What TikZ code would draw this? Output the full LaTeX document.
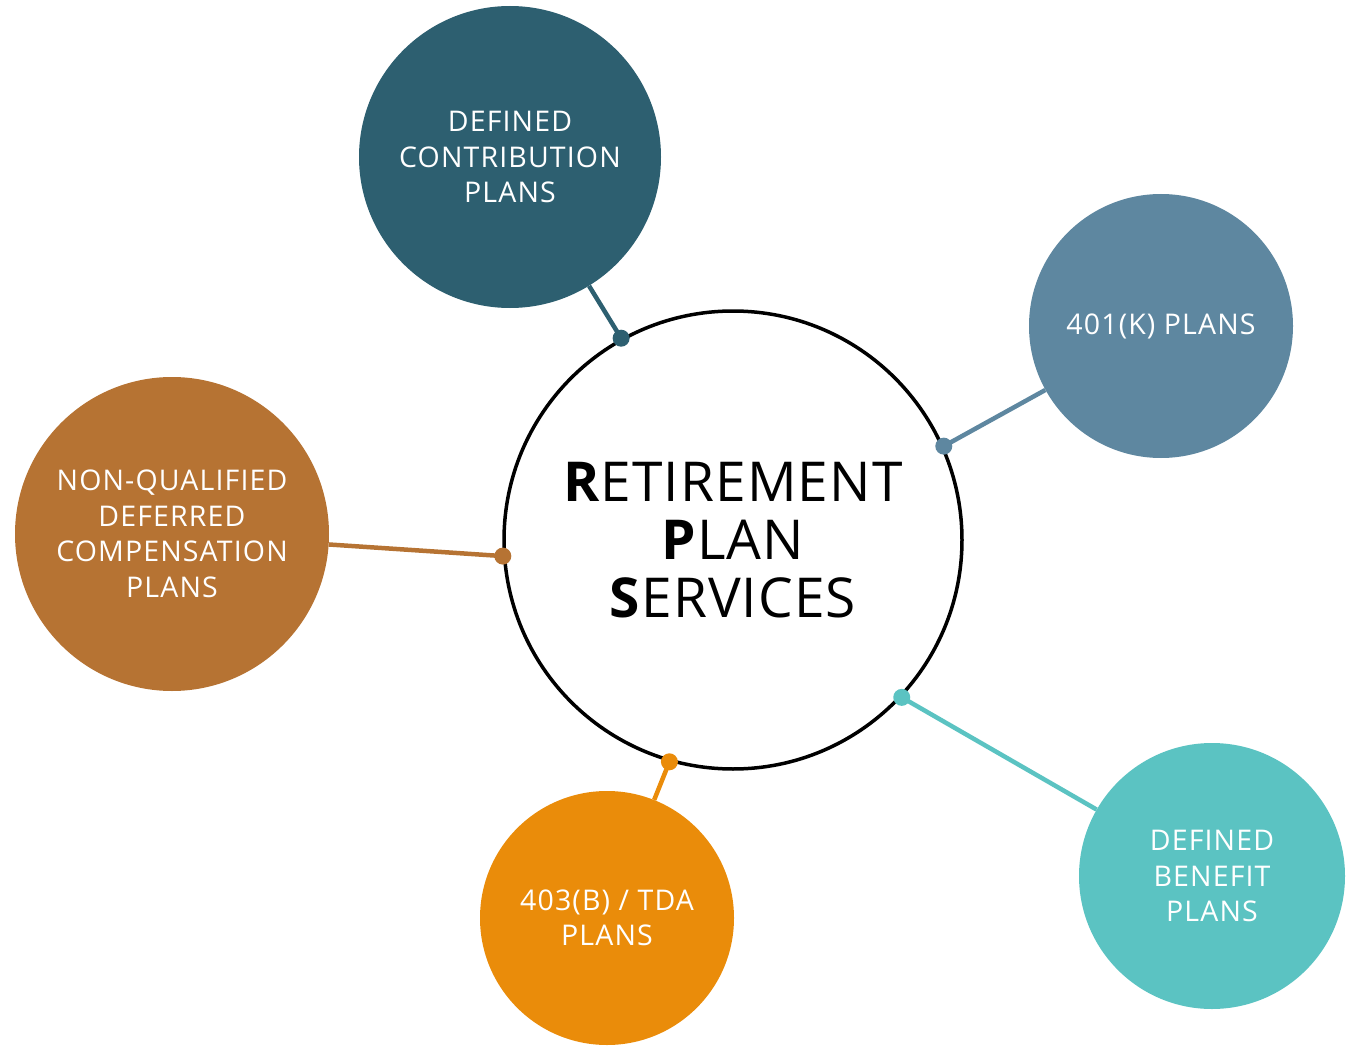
\documentclass[tikz,border=0pt]{standalone}
\usepackage{fontspec}
\setmainfont{Open Sans}
\newfontfamily\spaced[LetterSpace=4]{Open Sans}
\newfontfamily\hubfont[LetterSpace=2]{Open Sans}
\definecolor{cDC}{HTML}{2D5F70}
\definecolor{cK}{HTML}{5E87A0}
\definecolor{cNQ}{HTML}{B67333}
\definecolor{cTDA}{HTML}{EA8C0A}
\definecolor{cDB}{HTML}{5BC3C2}
\begin{document}
\begin{tikzpicture}[x=1pt,y=-1pt,
  sat/.style={circle,inner sep=0pt,text=white,align=center,
    font=\spaced\fontsize{28.5}{35.5}\selectfont},
  hub/.style={circle,draw=black,line width=3.5pt,fill=white,inner sep=0pt,
    minimum size=458pt,align=center,font=\hubfont\fontsize{55}{58}\selectfont},
  link/.style={line width=4.5pt},
  dot/.style={circle,inner sep=0pt,minimum size=17pt}]
\useasboundingbox (0,0) rectangle (1353,1046);
\node[hub] (c) at (733,540) {\textbf{R}ETIREMENT\\\textbf{P}LAN\\\textbf{S}ERVICES};
\node[sat,fill=cDC,minimum size=302pt] (dc) at (510,157) {DEFINED\\CONTRIBUTION\\PLANS};
\node[sat,fill=cK,minimum size=264pt] (k) at (1161,326) {401(K) PLANS};
\node[sat,fill=cNQ,minimum size=314pt] (nq) at (172,534) {NON-QUALIFIED\\DEFERRED\\COMPENSATION\\PLANS};
\node[sat,fill=cTDA,minimum size=254pt] (tda) at (607,918) {403(B) / TDA\\PLANS};
\node[sat,fill=cDB,minimum size=266pt] (db) at (1212,876) {DEFINED\\BENEFIT\\PLANS};
\coordinate (pdc) at (c.119.2);
\coordinate (pk) at (c.24.4);
\coordinate (pnq) at (c.184.2);
\coordinate (ptda) at (c.254.4);
\coordinate (pdb) at (c.317.3);
\draw[link,cDC] (pdc) -- (dc);
\draw[link,cK] (pk) -- (k);
\draw[link,cNQ] (pnq) -- (nq);
\draw[link,cTDA] (ptda) -- (tda);
\draw[link,cDB] (pdb) -- (db);
\node[dot,fill=cDC] (ddc) at (pdc) {};
\node[dot,fill=cK] (dk) at (pk) {};
\node[dot,fill=cNQ] (dnq) at (pnq) {};
\node[dot,fill=cTDA] (dtda) at (ptda) {};
\node[dot,fill=cDB] (ddb) at (pdb) {};
\end{tikzpicture}
\end{document}
